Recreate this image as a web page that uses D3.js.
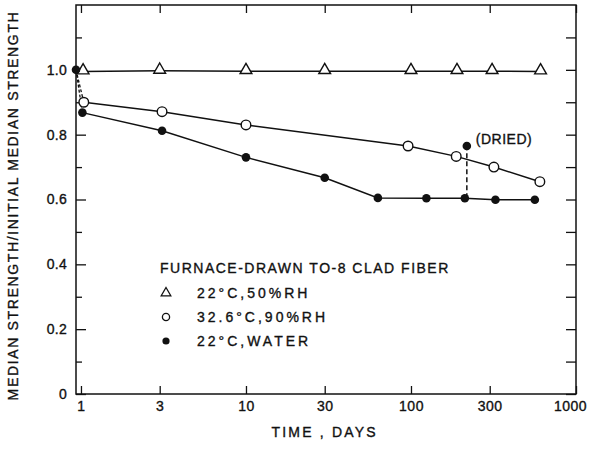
<!DOCTYPE html>
<html>
<head>
<meta charset="utf-8">
<script src="https://d3js.org/d3.v7.min.js"></script>
<style>
  body { margin: 0; background: #fff; }
  text { font-family: "Liberation Sans", Arial, sans-serif; fill: #111; stroke: #111; stroke-width: 0.35px; }
</style>
</head>
<body>
<div id="chart"></div>
<script>
// data (time in days, t0 = initial point on the axis)
var t0 = 0.933;
var rhDays   = [t0, 1.03, 3, 10, 30, 100, 190, 310, 610];
var rhVals   = [1.0, 0.995, 0.997, 0.996, 0.996, 0.996, 0.996, 0.996, 0.995];
var humDays  = [1.04, 3.1, 10, 96, 188, 318, 604];
var humVals  = [0.90, 0.871, 0.83, 0.765, 0.733, 0.70, 0.655];
var watDays  = [t0, 1.02, 3.1, 10, 30, 63, 124, 212, 325, 563];
var watVals  = [1.0, 0.868, 0.812, 0.73, 0.667, 0.605, 0.604, 0.604, 0.599, 0.599];
var driedDay = 218, driedVal = 0.765, driedFrom = 0.604;
var xTicks = [1, 3, 10, 30, 100, 300, 1000];
var yTicks = [0, 0.2, 0.4, 0.6, 0.8, 1.0];
var yMinor = [0.1, 0.3, 0.5, 0.7, 0.9, 1.1];

var margin = {top: 5, right: 13, bottom: 57, left: 76},
    width = 589 - margin.left - margin.right,
    height = 451 - margin.top - margin.bottom;

var svg = d3.select("#chart")
  .append("svg")
    .attr("width", 589)
    .attr("height", 451)
  .append("g")
    .attr("transform", "translate(" + margin.left + "," + margin.top + ")");

var x = d3.scaleLog().domain([t0, 1000]).range([0, width]);
var y = d3.scaleLinear().domain([0, 1.2]).range([height, 0]);

// frame
svg.append("rect")
    .attr("width", width).attr("height", height)
    .style("fill", "none").style("stroke", "#111").style("stroke-width", 1.5);

// ticks (inward, on all four sides)
function tk(g) { g.select(".domain").remove(); g.selectAll("line").style("stroke", "#111").style("stroke-width", 1.3); }
var xb = svg.append("g").attr("transform", "translate(0," + height + ")")
    .call(d3.axisBottom(x).tickValues(xTicks).tickSizeInner(-8).tickSizeOuter(0).tickFormat(d3.format("d")).tickPadding(7))
    .call(tk);
xb.selectAll("text").style("font-size", "14px").style("letter-spacing", "0.5px");
xb.selectAll("text").filter(function(d) { return d === 1000; }).attr("dx", "-6");
svg.append("g")
    .call(d3.axisTop(x).tickValues(xTicks).tickSizeInner(-8).tickSizeOuter(0).tickFormat(""))
    .call(tk);
svg.append("g")
    .call(d3.axisLeft(y).tickValues(yTicks).tickSizeInner(-10).tickSizeOuter(0)
      .tickFormat(function(d) { return d === 0 ? "0" : d3.format(".1f")(d); }).tickPadding(9))
    .call(tk)
    .selectAll("text").style("font-size", "14px").style("letter-spacing", "0.3px");
svg.append("g")
    .call(d3.axisLeft(y).tickValues(yMinor).tickSizeInner(-6).tickSizeOuter(0).tickFormat(""))
    .call(tk);
svg.append("g").attr("transform", "translate(" + width + ",0)")
    .call(d3.axisRight(y).tickValues(yTicks.concat(yMinor)).tickSizeInner(-10).tickSizeOuter(0).tickFormat(""))
    .call(tk);

// axis titles
svg.append("text")
    .attr("x", x(30)).attr("y", height + 43)
    .attr("text-anchor", "middle")
    .style("font-size", "14px").style("letter-spacing", "2.2px")
    .text("TIME , DAYS");
svg.append("text")
    .attr("transform", "translate(" + (-58) + "," + (height / 2 + 6) + ") rotate(-90)")
    .attr("text-anchor", "middle")
    .style("font-size", "14px").style("letter-spacing", "1.65px")
    .text("MEDIAN STRENGTH/INITIAL MEDIAN STRENGTH");

var line = d3.line().x(function(d) { return x(d[0]); }).y(function(d) { return y(d[1]); });
function pts(days, vals) { return days.map(function(d, i) { return [d, vals[i]]; }); }

var rh = pts(rhDays, rhVals), hum = pts(humDays, humVals), wat = pts(watDays, watVals);

// lines
svg.append("path").datum(rh).attr("d", line)
    .style("fill", "none").style("stroke", "#111").style("stroke-width", 1.5);
svg.append("path").datum(hum).attr("d", line)
    .style("fill", "none").style("stroke", "#111").style("stroke-width", 1.5);
svg.append("path").datum([[t0, 1.0], hum[0]]).attr("d", line)
    .style("fill", "none").style("stroke", "#111").style("stroke-width", 1.3).style("stroke-dasharray", "3,2");
svg.append("path").datum(wat.slice(1)).attr("d", line)
    .style("fill", "none").style("stroke", "#111").style("stroke-width", 1.5);
svg.append("path").datum(wat.slice(0, 2)).attr("d", line)
    .style("fill", "none").style("stroke", "#111").style("stroke-width", 1.3).style("stroke-dasharray", "3,2");
svg.append("path").datum([[driedDay, driedFrom], [driedDay, driedVal]]).attr("d", line)
    .style("fill", "none").style("stroke", "#111").style("stroke-width", 1.5).style("stroke-dasharray", "5,3");

// markers
var tri = d3.symbol().type(d3.symbolTriangle).size(60);
svg.selectAll(".tri").data(rh.slice(1)).enter().append("path")
    .attr("transform", function(d) { return "translate(" + x(d[0]) + "," + (y(d[1]) - 1) + ")"; })
    .attr("d", tri)
    .style("fill", "#fff").style("stroke", "#111").style("stroke-width", 1.4);
svg.selectAll(".hum").data(hum).enter().append("circle")
    .attr("cx", function(d) { return x(d[0]); }).attr("cy", function(d) { return y(d[1]); })
    .attr("r", 4.8)
    .style("fill", "#fff").style("stroke", "#111").style("stroke-width", 1.4);
svg.selectAll(".wat").data(wat).enter().append("circle")
    .attr("cx", function(d) { return x(d[0]); }).attr("cy", function(d) { return y(d[1]); })
    .attr("r", 4.3)
    .style("fill", "#111");
svg.append("circle")
    .attr("cx", x(driedDay)).attr("cy", y(driedVal)).attr("r", 4.3).style("fill", "#111");
svg.append("text")
    .attr("x", x(driedDay) + 9).attr("y", y(driedVal) - 2)
    .style("font-size", "14px").style("letter-spacing", "0.5px")
    .text("(DRIED)");

// legend
var lg = svg.append("g").attr("transform", "translate(84,0)");
lg.append("text").attr("x", 0).attr("y", 268)
    .style("font-size", "14px").style("letter-spacing", "1.5px")
    .text("FURNACE-DRAWN TO-8 CLAD FIBER");
lg.append("path").attr("transform", "translate(6,288)").attr("d", d3.symbol().type(d3.symbolTriangle).size(40))
    .style("fill", "#fff").style("stroke", "#111").style("stroke-width", 1.3);
lg.append("circle").attr("cx", 6).attr("cy", 312).attr("r", 3.6)
    .style("fill", "#fff").style("stroke", "#111").style("stroke-width", 1.3);
lg.append("circle").attr("cx", 6).attr("cy", 336).attr("r", 3.6).style("fill", "#111");
var labels = ["22\u00b0C,50%RH", "32.6\u00b0C,90%RH", "22\u00b0C,WATER"];
lg.selectAll(".lt").data(labels).enter().append("text")
    .attr("x", 37).attr("y", function(d, i) { return 293 + i * 24; })
    .style("font-size", "14px").style("letter-spacing", "3px")
    .text(function(d) { return d; });
</script>
</body>
</html>
